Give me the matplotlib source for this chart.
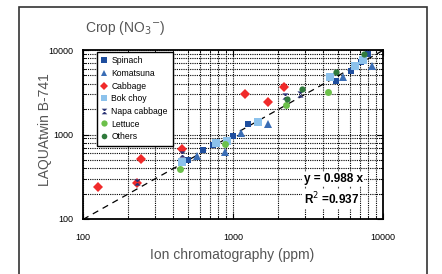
import numpy as np
import matplotlib
matplotlib.use('Agg')
import matplotlib.pyplot as plt
from matplotlib.patches import Rectangle
from matplotlib.path import Path

# --- data (ppm): ion chromatography (x) vs LAQUAtwin B-741 (y) ---
spinach_x = [505, 634, 739, 995, 1253, 4850, 6100, 7150, 7900]
spinach_y = [500, 661, 750, 960, 1320, 4350, 5650, 7250, 8900]
komatsuna_x = [575, 885, 1128, 1719, 5450, 8400]
komatsuna_y = [555, 626, 1033, 1320, 4850, 6450]
cabbage_x = [125, 228, 245, 455, 1202, 1703, 2200]
cabbage_y = [240, 265, 510, 670, 3015, 2445, 3650]
bokchoy_x = [460, 771, 916, 1475, 4400, 6500, 7350]
bokchoy_y = [470, 787, 838, 1419, 4750, 6450, 7600]
napa_x = [230, 455, 2220, 2800]
napa_y = [275, 580, 2850, 3050]
lettuce_x = [440, 885, 2250, 4300]
lettuce_y = [390, 765, 2230, 3200]
others_x = [2290, 2900, 4850, 7450]
others_y = [2600, 3500, 5550, 8900]

slope = 0.988
r2 = 0.937

hourglass = Path([(-1, 1), (1, 1), (-1, -1), (1, -1), (-1, 1)],
                 [Path.MOVETO, Path.LINETO, Path.LINETO, Path.LINETO, Path.CLOSEPOLY])

SERIES = [
    ('Spinach',      spinach_x,   spinach_y,   dict(marker='s', color='#1f4e9e', ms=5.0)),
    ('Komatsuna',    komatsuna_x, komatsuna_y, dict(marker='^', color='#3a6db5', ms=5.5)),
    ('Cabbage',      cabbage_x,   cabbage_y,   dict(marker='D', color='#f02a2a', ms=5.0)),
    ('Bok choy',     bokchoy_x,   bokchoy_y,   dict(marker='s', color='#8cc2ec', ms=5.5)),
    ('Napa cabbage', napa_x,      napa_y,      dict(marker=hourglass, color='#2b3375', ms=4.5)),
    ('Lettuce',      lettuce_x,   lettuce_y,   dict(marker='o', color='#6cc04a', ms=5.0)),
    ('Others',       others_x,    others_y,    dict(marker='o', color='#2f7a3b', ms=4.5)),
]

plt.rcParams.update({'font.family': 'Liberation Sans'})

fig = plt.figure(figsize=(4.42, 2.74), dpi=100)
# outer frame of the panel
fig.patches.append(Rectangle((19 / 442, -0.1), (427 - 19) / 442, 1.1 - 7 / 274,
                             transform=fig.transFigure, fill=False,
                             edgecolor='#333333', linewidth=1.2))

ax = fig.add_axes([83 / 442, 55 / 274, 300 / 442, 169 / 274])
ax.set_xscale('log')
ax.set_yscale('log')
ax.set_xlim(100, 10000)
ax.set_ylim(100, 10000)

ax.grid(True, which='both', color='black', linestyle=(0, (1, 1)), linewidth=0.8)
ax.set_axisbelow(True)

xx = np.array([100, 10000])
ax.plot(xx, slope * xx, color='black', linestyle=(0, (5, 4)), linewidth=0.9, zorder=2)

for name, xs, ys, st in SERIES:
    ax.plot(xs, ys, linestyle='none', marker=st['marker'], color=st['color'],
            markersize=st['ms'], markeredgewidth=0, label=name, zorder=3)

for sp in ax.spines.values():
    sp.set_linewidth(1.3)
ax.tick_params(which='both', direction='in', top=True, right=True, labelsize=6.5)
ax.tick_params(which='major', length=4, pad=10)
ax.tick_params(which='minor', length=2)
ax.tick_params(axis='y', which='major', pad=7)
ax.set_xticks([100, 1000, 10000])
ax.set_xticklabels(['100', '1000', '10000'])
ax.set_yticks([100, 1000, 10000])
ax.set_yticklabels(['100', '1000', '10000'])

leg = ax.legend(loc='upper left', bbox_to_anchor=(0.047, 0.99), borderaxespad=0,
                fontsize=6.2, frameon=True, fancybox=False, edgecolor='black',
                framealpha=1, handlelength=0.6, handletextpad=0.5,
                labelspacing=0.42, borderpad=0.55, markerscale=0.9)
leg.get_frame().set_linewidth(1.0)

ax.text(0.735, 0.237, f'y = {slope} x', transform=ax.transAxes, fontsize=8.5,
        fontweight='bold', va='center', ha='left',
        bbox=dict(facecolor='white', edgecolor='none', pad=1))
ax.text(0.735, 0.118, f'R$^{{2}}$ ={r2}', transform=ax.transAxes, fontsize=8.5,
        fontweight='bold', va='center', ha='left',
        bbox=dict(facecolor='white', edgecolor='none', pad=1))

fig.text(125 / 442, 1 - 28 / 274, 'Crop (NO$_3$$^{-}$)', ha='center', va='center',
         fontsize=10, color='#555555')
fig.text(45 / 442, 1 - 130 / 274, 'LAQUAtwin B-741', rotation=90, ha='center',
         va='center', fontsize=10, color='#555555')
fig.text(232 / 442, 1 - 255 / 274, 'Ion chromatography (ppm)', ha='center',
         va='center', fontsize=10, color='#555555')

fig.savefig('out.png', dpi=100)
